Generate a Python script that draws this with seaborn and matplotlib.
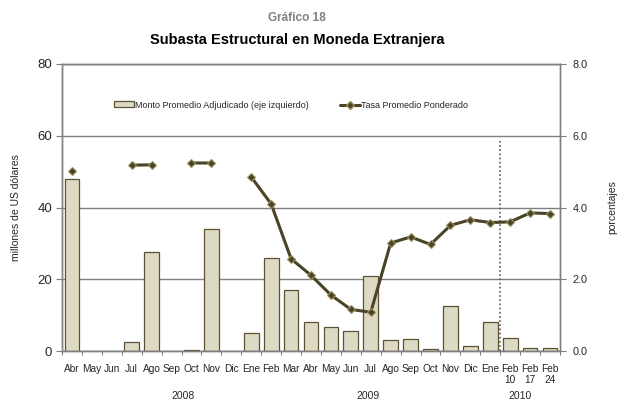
import numpy as np
import matplotlib
matplotlib.use("Agg")
import matplotlib.pyplot as plt
import pandas as pd
import seaborn as sns
from matplotlib.lines import Line2D
from matplotlib.patches import Patch

nan = np.nan

months = ["Abr", "May", "Jun", "Jul", "Ago", "Sep", "Oct", "Nov", "Dic",
          "Ene", "Feb", "Mar", "Abr", "May", "Jun", "Jul", "Ago", "Sep", "Oct", "Nov", "Dic",
          "Ene", "Feb\n10", "Feb\n17", "Feb\n24"]
# millones de US dolares (eje izquierdo)
monto = [48.0, nan, nan, 2.5, 27.5, nan, 0.4, 33.9, nan,
         5.0, 25.9, 17.1, 8.0, 6.6, 5.5, 20.9, 3.0, 3.3, 0.5, 12.5, 1.3,
         8.0, 3.5, 0.75, 0.9]
# porcentajes (eje derecho)
tasa = [5.03, nan, nan, 5.18, 5.19, nan, 5.24, 5.24, nan,
        4.85, 4.10, 2.57, 2.11, 1.56, 1.16, 1.08, 3.01, 3.18, 2.97, 3.50, 3.66,
        3.58, 3.60, 3.85, 3.83]
years = ["2008", "2009", "2010"]

BAR_FACE = "#DDD9C3"
BAR_EDGE = "#5A5235"
LINE_COL = "#4A4326"
MARK_EDGE = "#9C9360"
GRID_COL = "#7F7F7F"

sns.set_theme(style="white")
plt.rcParams["font.family"] = ["Liberation Sans", "DejaVu Sans"]

df = pd.DataFrame({"pos": range(len(months)), "monto": monto, "tasa": tasa})

fig = plt.figure(figsize=(6.27, 4.04), dpi=100)
ax = fig.add_axes([62 / 627, 53 / 404, 498 / 627, 287 / 404])

sns.barplot(data=df.dropna(subset=["monto"]), x="pos", y="monto", order=list(range(len(months))),
            color=BAR_FACE, edgecolor=BAR_EDGE, linewidth=0.9, width=0.74, saturation=1, ax=ax)
ax.set_xlim(-0.5, len(months) - 0.5)
ax.set_ylim(0, 80)
ax.set_yticks([0, 20, 40, 60, 80])
ax.yaxis.grid(True, color=GRID_COL, linewidth=1)
ax.set_axisbelow(True)
ax.set_xlabel("")
ax.set_ylabel("millones de US dólares", fontsize=7.5, labelpad=12)
ax.tick_params(axis="y", labelsize=9.5, length=4, width=0.8, color=GRID_COL, direction="out", left=True, pad=3)

ax.set_xticks(range(len(months)))
ax.set_xticklabels(months, fontsize=7.3, linespacing=1.2, va="top")
ax.tick_params(axis="x", length=0, pad=9)
ax.set_xticks(np.arange(-0.5, len(months), 1), minor=True)
ax.tick_params(axis="x", which="minor", length=3, width=0.8, color=GRID_COL, bottom=True)

for s in ax.spines.values():
    s.set_color(GRID_COL)
    s.set_linewidth(1)

# vertical dotted separator
ax.vlines(21.5, 0, 58.5, colors="#595959", linestyles=(0, (1, 1.5)), linewidth=1.2)

ax2 = ax.twinx()
ax2.plot(df["pos"], df["tasa"], color=LINE_COL, linewidth=2.2, marker="D", markersize=4.5,
         markerfacecolor=LINE_COL, markeredgecolor=MARK_EDGE, markeredgewidth=0.8)
ax2.set_ylim(0, 8)
ax2.set_yticks([0, 2, 4, 6, 8])
ax2.set_yticklabels([f"{v:.1f}" for v in [0, 2, 4, 6, 8]])
ax2.tick_params(axis="y", labelsize=7.8, length=4, width=0.8, color=GRID_COL, direction="out", right=True, pad=5)
ax2.set_ylabel("porcentajes", fontsize=7.5, labelpad=14)
ax2.grid(False)
for s in ax2.spines.values():
    s.set_color(GRID_COL)
    s.set_linewidth(1)

handles = [Patch(facecolor=BAR_FACE, edgecolor=BAR_EDGE, linewidth=0.9),
           Line2D([0], [0], color=LINE_COL, linewidth=2.2, marker="D", markersize=4,
                  markerfacecolor=LINE_COL, markeredgecolor=MARK_EDGE)]
ax.legend(handles, ["Monto Promedio Adjudicado (eje izquierdo)", "Tasa Promedio Ponderado"],
          loc="center", bbox_to_anchor=(0.46, 0.857), ncol=2, frameon=False, fontsize=6.5,
          handlelength=2.2, handleheight=0.6, handletextpad=0.1, columnspacing=3.5)

# year labels
for label, xpix in zip(years, [183, 368, 520]):
    fig.text(xpix / 627, 1 - 396 / 404, label, ha="center", va="center", fontsize=7.5)

fig.text(297 / 627, 1 - 18 / 404, "Gráfico 18", ha="center", va="center",
         fontsize=8.5, fontweight="bold", color="#808080")
fig.text(297 / 627, 1 - 40 / 404, "Subasta Estructural en Moneda Extranjera", ha="center", va="center",
         fontsize=10.5, fontweight="bold", color="black")

fig.savefig("out.png", dpi=100)
plt.close(fig)
